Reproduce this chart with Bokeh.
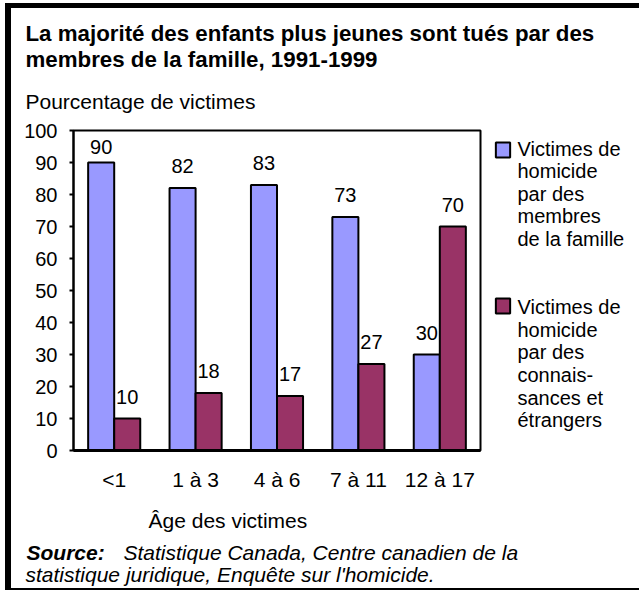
from bokeh.plotting import figure
from bokeh.models import ColumnDataSource, FactorRange, Range1d, LabelSet, Label
from bokeh.transform import dodge
from bokeh.core.properties import value
from bokeh.embed import file_html
from bokeh.resources import INLINE
import numpy as np

# ---- data ----
ages = ["<1", "1 à 3", "4 à 6", "7 à 11", "12 à 17"]
famille = [90, 82, 83, 73, 30]
autres = [10, 18, 17, 27, 70]
y_ticks = [0, 10, 20, 30, 40, 50, 60, 70, 80, 90, 100]

title1 = "La majorité des enfants plus jeunes sont tués par des"
title2 = "membres de la famille, 1991-1999"
y_title = "Pourcentage de victimes"
x_title = "Âge des victimes"
legend1 = ["Victimes de", "homicide", "par des", "membres", "de la famille"]
legend2 = ["Victimes de", "homicide", "par des", "connais-", "sances et", "étrangers"]
source_lbl = "Source:"
source1 = "Statistique Canada, Centre canadien de la"
source2 = "statistique juridique, Enquête sur l'homicide."

BLUE = "#9999FF"
PURPLE = "#993366"
FONT = "Liberation Sans"

# ---- layout (pixels) ----
W, H = 639, 590
FL, FR, FT, FB = 73, 480, 130, 450
PX_Y = (FB - FT) / 100.0

p = figure(x_range=FactorRange(*ages, range_padding=0), y_range=Range1d(0, 100),
           width=W, height=H, min_border_left=FL, min_border_right=W - FR,
           min_border_top=FT, min_border_bottom=H - FB,
           output_backend="svg", toolbar_location=None)
p.background_fill_color = "white"
p.border_fill_color = None
p.outline_line_color = "black"
p.outline_line_width = 2
p.grid.visible = False
# decorative outer frame (thick top & left, thin bottom) drawn as page background
p.styles = {
    "vertical-align": "top",
    "background-color": "white",
    "background-image": "linear-gradient(#000,#000), linear-gradient(#000,#000), linear-gradient(#000,#000)",
    "background-size": "6px 587px, 634px 5px, 634px 2px",
    "background-position": "5px 3px, 5px 3px, 5px 588px",
    "background-repeat": "no-repeat",
}

src = ColumnDataSource(dict(
    age=ages, fam=famille, aut=autres,
    fam_y=np.minimum(np.array(famille) + 15 / PX_Y, 92.8),
    aut_y=np.minimum(np.array(autres) + 15 / PX_Y, 92.8),
    fam_t=[str(v) for v in famille], aut_t=[str(v) for v in autres]))

p.vbar(x=dodge("age", -0.16, range=p.x_range), top="fam", width=0.32, source=src,
       fill_color=BLUE, line_color="black", line_width=2)
p.vbar(x=dodge("age", 0.16, range=p.x_range), top="aut", width=0.32, source=src,
       fill_color=PURPLE, line_color="black", line_width=2)

for col, ycol, off in (("fam_t", "fam_y", -0.16), ("aut_t", "aut_y", 0.16)):
    p.add_layout(LabelSet(x=dodge("age", off, range=p.x_range), y=ycol, text=col, source=src,
                          text_align="center", text_baseline="alphabetic",
                          text_font=value(FONT), text_font_size="20px", text_color="black"))

# axes
p.yaxis.ticker = y_ticks
p.yaxis.major_label_text_font = FONT
p.yaxis.major_label_text_font_size = "20px"
p.yaxis.major_label_text_color = "black"
p.yaxis.major_label_standoff = 12
p.yaxis.major_tick_out = 4
p.yaxis.major_tick_in = 0
p.yaxis.major_tick_line_width = 2
p.yaxis.minor_tick_line_color = None
p.yaxis.axis_line_width = 2

p.xaxis.major_label_text_font = FONT
p.xaxis.major_label_text_font_size = "21px"
p.xaxis.major_label_text_color = "black"
p.xaxis.major_label_standoff = 11
p.xaxis.major_tick_line_color = None
p.xaxis.minor_tick_line_color = None
p.xaxis.axis_line_width = 3


def add_text(txt, px, py, side, size="21px", style="normal", baseline="alphabetic", lh=1.2):
    p.add_layout(Label(x=px, y=py, x_units="canvas", y_units="canvas", text=txt,
                       text_font=FONT, text_font_size=size, text_line_height=lh,
                       text_font_style=style, text_color="black", text_align="left",
                       text_baseline=baseline), side)


add_text(title1, 25, 33, "above", "22.3px", "bold")
add_text(title2, 25, 59, "above", "22.3px", "bold")
add_text(y_title, 25, 101, "above")
add_text(source2, 25, 574, "above", "21px", "italic")
add_text(x_title, 148, 520, "below")
add_text(source_lbl, 26, 552, "below", "21px", "bold italic")
add_text(source1, 123, 552, "below", "21px", "italic")

# legend: text block + two swatches
legend_text = "\n".join(legend1 + ["", ""] + legend2)
add_text(legend_text, 517, 137, "right", "20px", baseline="top", lh=1.029)

for color, cy in ((BLUE, 149.5), (PURPLE, 305.5)):
    p.add_layout(Label(x=502.5, y=cy, x_units="canvas", y_units="canvas", text=" ",
                       text_font=FONT, text_font_size="1px", text_align="center",
                       text_baseline="middle", padding=7,
                       background_fill_color=color, background_fill_alpha=1,
                       border_line_color="black", border_line_width=2), "right")

open("out.html", "w").write(file_html(p, INLINE))
